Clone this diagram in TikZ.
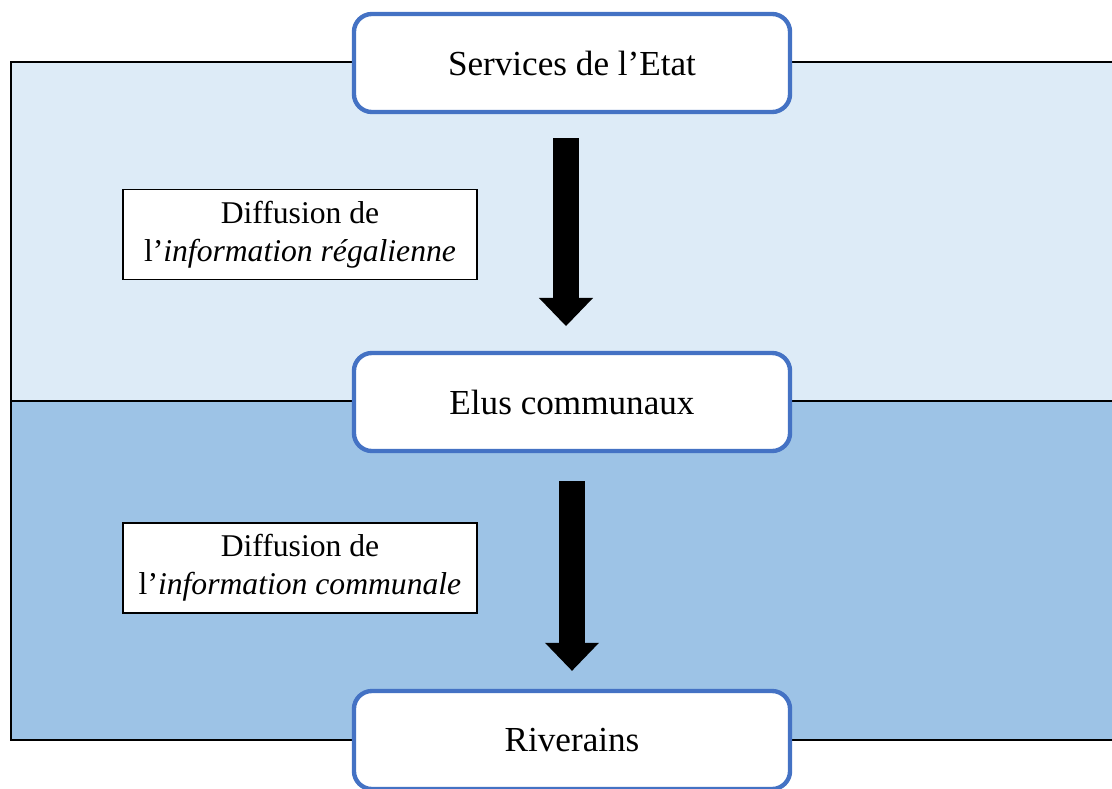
\documentclass[tikz,border=0pt]{standalone}
\usepackage{fontspec}
\setmainfont{Liberation Serif}
\usetikzlibrary{arrows.meta}

\definecolor{lightband}{HTML}{DDEBF7}
\definecolor{darkband}{HTML}{9DC3E6}
\definecolor{boxblue}{HTML}{4472C4}

\tikzset{
  actor/.style={draw=boxblue, line width=3.1pt, rounded corners=0.45cm, fill=white,
    minimum width=10.9cm, minimum height=2.45cm, font=\fontsize{25}{30}\selectfont},
  legend/.style={draw, line width=0.9pt, fill=white, minimum width=8.85cm,
    minimum height=2.25cm, align=center, font=\fontsize{22.5}{27}\selectfont},
  flow/.style={line width=0.65cm, -{Triangle[width=1.35cm, length=0.7cm, line width=0pt]}}
}

\begin{document}
\begin{tikzpicture}[x=0.025cm, y=-0.025cm]
                \useasboundingbox (0,0) rectangle (1112,789);
                % Bands
                \fill[lightband] (11,62) rectangle (1112,401);
                \fill[darkband] (11,401) rectangle (1112,740);
                \draw[line width=1.5pt] (1112,62) -- (11,62) -- (11,740) -- (1112,740);
                \draw[line width=1.5pt] (11,401) -- (1112,401);
                % Nodes
                \node[actor] (etat) at (572,63) {Services de l’Etat};
                \node[actor] (elus) at (572,402) {Elus communaux};
                \node[actor] (riv) at (572,740) {Riverains};
                \node[legend] (regal) at (300,234.5) {Diffusion de\\l’\textit{information régalienne}};
                \node[legend] (commu) at (300,568) {Diffusion de\\l’\textit{information communale}};
                % Edges
                \draw[flow, shorten <=0.6cm, shorten >=0.62cm] ([xshift=-0.15cm]etat.south) -- ([xshift=-0.15cm]elus.north);
                \draw[flow, shorten <=0.7cm, shorten >=0.45cm] (elus.south) -- (riv.north);
            \end{tikzpicture}
\end{document}
